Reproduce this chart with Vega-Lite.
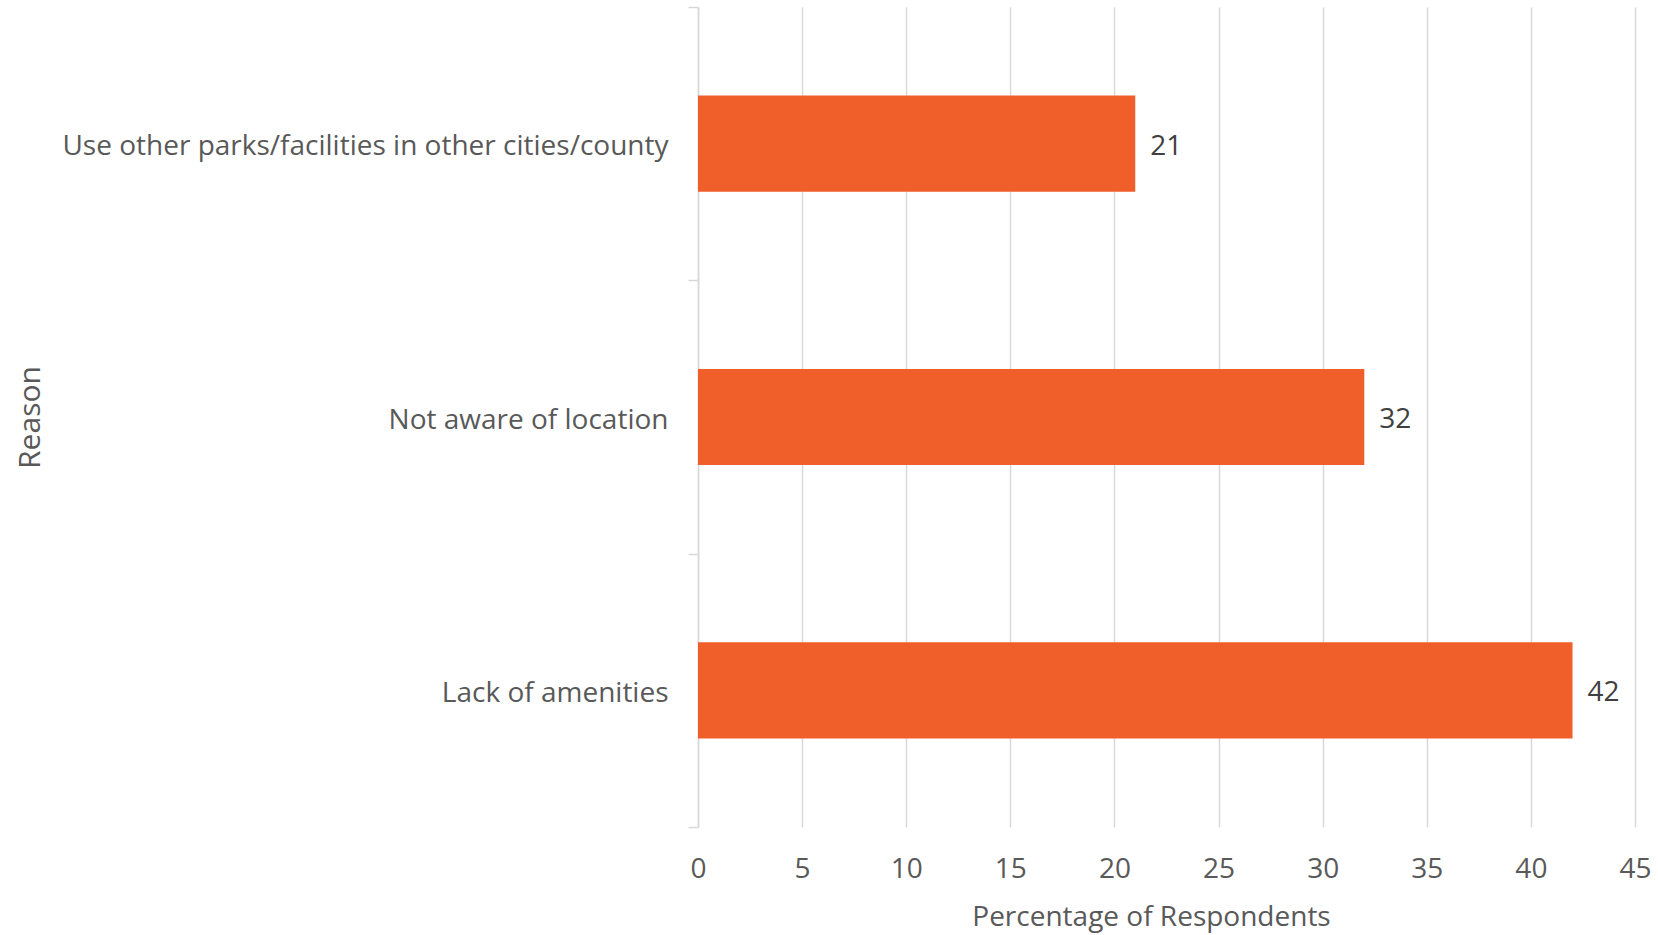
{
  "$schema": "https://vega.github.io/schema/vega-lite/v6.json",
  "width": 937,
  "height": 820,
  "autosize": {"type": "none"},
  "padding": {"left": 698, "top": 7, "right": 23, "bottom": 108},
  "background": "white",
  "config": {
    "view": {"stroke": null},
    "font": "Open Sans"
  },
  "data": {
    "values": [
      {"Reason": "Use other parks/facilities in other cities/county", "Percentage": 21},
      {"Reason": "Not aware of location", "Percentage": 32},
      {"Reason": "Lack of amenities", "Percentage": 42}
    ]
  },
  "encoding": {
    "y": {
      "field": "Reason",
      "type": "nominal",
      "sort": null,
      "scale": {"paddingInner": 0, "paddingOuter": 0},
      "axis": {
        "title": "Reason",
        "titleFont": "Open Sans",
        "titleFontSize": 30,
        "titleFontWeight": "normal",
        "titleColor": "#595959",
        "titleX": -668,
        "titleY": 410,
        "titleAngle": -90,
        "titleAlign": "center",
        "titleBaseline": "middle",
        "labelFont": "Open Sans",
        "labelFontSize": 28,
        "labelColor": "#595959",
        "labelPadding": 20,
        "labelOffset": 3,
        "labelLimit": 800,
        "domainColor": "#d9d9d9",
        "domainWidth": 1.5,
        "tickColor": "#d9d9d9",
        "tickWidth": 1.5,
        "tickSize": 10,
        "tickBand": "extent",
        "grid": false
      }
    },
    "x": {
      "field": "Percentage",
      "type": "quantitative",
      "scale": {"domain": [0, 45], "nice": false},
      "axis": {
        "title": "Percentage of Respondents",
        "titleFont": "Open Sans",
        "titleFontSize": 28,
        "titleFontWeight": "normal",
        "titleColor": "#595959",
        "titleX": 453,
        "titleY": 90,
        "titleAlign": "center",
        "titleBaseline": "middle",
        "values": [0, 5, 10, 15, 20, 25, 30, 35, 40, 45],
        "labelFont": "Open Sans",
        "labelFontSize": 28,
        "labelColor": "#595959",
        "labelPadding": 28,
        "labelFlush": false,
        "domain": false,
        "ticks": false,
        "grid": true,
        "gridColor": "#d9d9d9",
        "gridWidth": 1.5
      }
    }
  },
  "layer": [
    {
      "mark": {"type": "bar", "color": "#f05e2a", "height": {"band": 0.352}}
    },
    {
      "mark": {"type": "text", "align": "left", "baseline": "middle", "dx": 15, "dy": 3, "fontSize": 28, "color": "#404040", "font": "Open Sans"},
      "encoding": {"text": {"field": "Percentage", "type": "quantitative"}}
    }
  ]
}
